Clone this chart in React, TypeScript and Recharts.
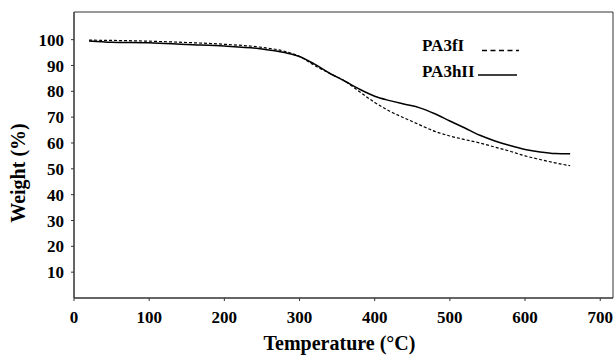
import React from "react";
import {
  LineChart,
  Line,
  XAxis,
  YAxis,
  ReferenceArea,
  Legend,
} from "recharts";

// temperature (°C) sampled along both TGA curves
const temps = [20, 50, 100, 150, 200, 250, 280, 300, 320, 340, 360, 380, 400, 420, 440, 460, 480, 500, 520, 540, 560, 580, 600, 620, 640, 660];

// weight (%) for each sample
const pa3fI = [99.8, 99.7, 99.4, 98.9, 98.2, 97, 95.5, 93.5, 90, 87, 84, 79.8, 75.7, 72.3, 69.6, 67, 64.5, 62.7, 61.3, 60, 58.4, 56.8, 55, 53.6, 52.3, 51.2];
const pa3hII = [99.5, 99, 98.8, 98.1, 97.5, 96.4, 95, 93.5, 90.5, 87, 84, 80.8, 78.1, 76.4, 75, 73.6, 71.3, 68.5, 65.8, 63, 60.8, 59, 57.5, 56.5, 55.9, 55.8];

const xTicks = [0, 100, 200, 300, 400, 500, 600, 700];
const yTicks = [10, 20, 30, 40, 50, 60, 70, 80, 90, 100];

const data = temps.map((t, i) => ({ t, a: pa3fI[i], b: pa3hII[i] }));

const font = "Liberation Serif";
const X_MAX = 717;
const Y_MAX = 110.7;

const LegendBox = () => (
  <div
    style={{
      position: "relative",
      width: 110,
      height: 60,
      fontFamily: font,
      fontWeight: "bold",
      fontSize: 17,
      lineHeight: "18px",
      color: "#000",
    }}
  >
    <span style={{ position: "absolute", left: 2, top: 7 }}>PA3fI</span>
    <span style={{ position: "absolute", left: 2, top: 33 }}>PA3hII</span>
    <svg width={110} height={60} style={{ position: "absolute", left: 0, top: 0 }}>
      <line x1={62} y1={20.5} x2={99} y2={20.5} stroke="#000" strokeWidth={1.3} strokeDasharray="5 3.5" />
      <line x1={58} y1={45} x2={97} y2={45} stroke="#000" strokeWidth={1.4} />
    </svg>
  </div>
);

export default function App() {
  return (
    <div style={{ width: 614, height: 356, background: "#fff", fontFamily: font }}>
      <style>{`body{margin:0}`}</style>
      <LineChart
        width={614}
        height={356}
        data={data}
        margin={{ top: 12, right: 1, left: 0, bottom: 0 }}
      >
        <XAxis
          dataKey="t"
          type="number"
          domain={[0, X_MAX]}
          ticks={xTicks}
          interval={0}
          height={58}
          tickSize={3}
          tickMargin={10}
          stroke="#333"
          tick={{ fill: "#000", fontSize: 17, fontWeight: "bold", fontFamily: font }}
          label={{
            value: "Temperature (°C)",
            position: "center",
            dx: -4,
            dy: 16,
            style: { fontFamily: font, fontWeight: "bold", fontSize: 20, fill: "#000" },
          }}
        />
        <YAxis
          type="number"
          domain={[0, Y_MAX]}
          ticks={yTicks}
          interval={0}
          width={74}
          tickSize={3}
          tickMargin={7}
          stroke="#333"
          tick={{ fill: "#000", fontSize: 17, fontWeight: "bold", fontFamily: font }}
          label={{
            value: "Weight (%)",
            angle: -90,
            position: "center",
            dx: -19,
            dy: 18,
            style: { fontFamily: font, fontWeight: "bold", fontSize: 20, fill: "#000", textAnchor: "middle" },
          }}
        />
        <ReferenceArea x1={0} x2={X_MAX} y1={0} y2={Y_MAX} fill="none" stroke="#333" strokeWidth={1} />
        <Legend
          layout="vertical"
          align="center"
          verticalAlign="middle"
          content={<LegendBox />}
          wrapperStyle={{ top: 30, left: 420, width: 110 }}
        />
        <Line
          dataKey="a"
          name="PA3fI"
          type="monotone"
          stroke="#000"
          strokeWidth={1.2}
          strokeDasharray="3 2"
          dot={false}
          isAnimationActive={false}
        />
        <Line
          dataKey="b"
          name="PA3hII"
          type="monotone"
          stroke="#000"
          strokeWidth={1.5}
          dot={false}
          isAnimationActive={false}
        />
      </LineChart>
    </div>
  );
}
